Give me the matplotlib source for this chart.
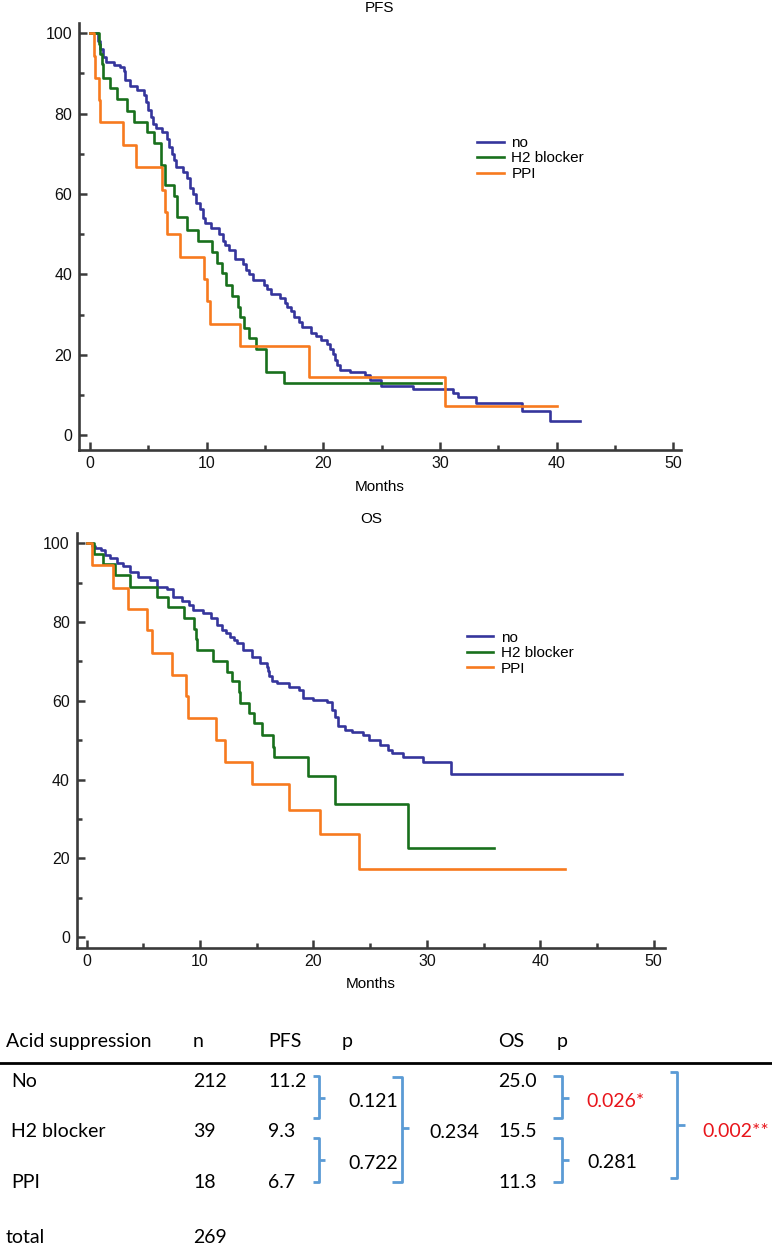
"""
Kaplan-Meier curves (PFS / OS) by acid suppression, with summary table.
"""

import matplotlib
matplotlib.use('Agg')
import matplotlib.pyplot as plt
from matplotlib.ticker import MultipleLocator

plt.rcParams['font.family'] = ['Liberation Sans', 'DejaVu Sans']

# --- Data ---
groups = ['no', 'H2 blocker', 'PPI']
colors = ['#35359c', '#18701c', '#f77a1e']

# PFS curves: event times (months) and survival (%)
pfs_no_t = [0, 0.7, 0.9, 1.1, 1.4, 2.1, 2.6, 2.9, 3.0, 3.4, 4.0, 4.6, 4.8, 5.0, 5.2,
            5.4, 5.7, 6.2, 6.6, 6.8, 7.0, 7.2, 7.4, 8.0, 8.3, 8.6, 8.8, 9.1, 9.4, 9.7,
            9.9, 10.4, 11.1, 11.4, 11.6, 11.9, 12.4, 13.1, 13.4, 13.6, 14.0, 14.9, 15.2,
            15.5, 16.3, 16.7, 16.9, 17.2, 17.5, 17.9, 18.2, 18.9, 19.4, 19.8, 20.3, 20.6,
            20.8, 21.0, 21.2, 21.4, 22.3, 23.6, 24.0, 24.9, 27.7, 31.1, 31.5, 33.1, 37.0,
            39.4, 42.0]
pfs_no_s = [100, 98.0, 96.0, 94.0, 92.9, 92.2, 91.5, 90.7, 88.4, 86.9, 85.8, 84.7, 83.0, 80.9, 79.2,
            77.4, 76.3, 75.3, 73.7, 71.8, 70.0, 68.5, 66.8, 65.6, 63.9, 61.5, 60.0, 57.7, 56.3, 54.0,
            52.7, 51.5, 50.0, 48.2, 47.3, 46.1, 43.8, 42.7, 41.2, 40.1, 38.6, 37.4, 36.3,
            35.2, 34.1, 32.8, 32.0, 30.8, 29.5, 28.2, 27.0, 25.5, 24.6, 23.7, 22.6, 21.5,
            20.2, 18.7, 17.4, 16.2, 15.8, 15.0, 13.8, 12.3, 11.4, 10.4, 9.5, 8.1, 6.0,
            3.6, 3.6]
pfs_h2_t = [0, 0.8, 0.9, 1.0, 1.15, 1.7, 2.3, 3.2, 3.8, 4.85, 5.5, 6.1, 6.45, 7.2, 7.5,
            8.3, 9.3, 10.5, 10.9, 11.3, 11.7, 12.2, 12.7, 12.85, 13.2, 13.65, 14.2, 15.1,
            16.6, 30.1]
pfs_h2_s = [100, 97.4, 94.9, 92.3, 88.8, 86.3, 83.7, 80.7, 78.0, 75.4, 72.6, 67.2, 62.3, 59.4, 54.2,
            51.1, 48.4, 45.7, 42.8, 40.3, 37.4, 34.7, 32.0, 29.5, 26.6, 24.1, 21.4, 15.8,
            13.1, 13.1]
pfs_ppi_t = [0, 0.35, 0.45, 0.8, 0.9, 2.85, 3.95, 6.15, 6.45, 6.6, 7.7, 9.75, 10.05, 10.3,
             12.9, 18.8, 30.4, 40.0]
pfs_ppi_s = [100, 94.4, 88.9, 83.3, 77.8, 72.2, 66.7, 61.1, 55.6, 50.0, 44.4, 38.9, 33.3, 27.8,
             22.2, 14.6, 7.2, 7.2]

# OS curves
os_no_t = [0, 0.5, 0.75, 1.3, 1.6, 2.1, 2.65, 3.2, 3.8, 4.55, 5.6, 6.2, 7.05, 7.65, 8.4,
           9.0, 9.4, 10.3, 11.0, 11.5, 11.9, 12.3, 12.65, 13.0, 13.25, 13.8, 14.55, 15.3,
           15.9, 16.0, 16.1, 16.3, 16.8, 17.8, 18.7, 19.1, 20.0, 21.2, 21.6, 21.9, 22.2,
           22.8, 23.4, 24.4, 24.9, 25.9, 26.6, 26.9, 27.9, 29.7, 32.1, 47.2]
os_no_s = [100, 99.2, 98.7, 98.3, 97.0, 96.2, 94.9, 94.1, 92.8, 91.5, 90.7, 89.0, 88.3, 86.4, 85.2,
           84.3, 83.1, 82.2, 81.0, 79.3, 78.0, 77.2, 76.3, 75.4, 74.6, 72.9, 71.2, 69.5,
           68.7, 67.5, 66.2, 64.9, 64.5, 63.6, 62.8, 60.7, 60.2, 59.8, 57.7, 56.0, 53.5,
           52.6, 52.2, 51.3, 50.1, 48.8, 47.5, 46.7, 45.8, 44.4, 41.4, 41.4]
os_h2_t = [0, 0.65, 1.45, 2.5, 3.8, 6.2, 7.2, 8.6, 9.45, 9.6, 9.7, 11.15, 12.35, 12.8, 13.4,
           13.5, 14.3, 14.75, 15.5, 16.45, 16.5, 19.5, 21.9, 28.3, 35.95]
os_h2_s = [100, 97.3, 94.8, 92.0, 89.0, 86.4, 83.8, 81.0, 78.2, 75.6, 72.9, 70.2, 67.4, 64.9, 62.2,
           59.5, 56.9, 54.3, 51.3, 48.4, 45.7, 40.8, 33.8, 22.6, 22.6]
os_ppi_t = [0, 0.45, 2.35, 3.65, 5.35, 5.75, 7.5, 8.75, 8.9, 11.4, 12.2, 14.55, 17.85, 20.6,
            24.0, 42.2]
os_ppi_s = [100, 94.5, 88.6, 83.2, 78.0, 72.2, 66.6, 61.1, 55.6, 50.1, 44.4, 38.9, 32.3, 26.1,
            17.3, 17.3]

# Summary table
table_header = ['Acid suppression', 'n', 'PFS', 'p', 'OS', 'p']
table_groups = ['No', 'H2 blocker', 'PPI']
n_patients = ['212', '39', '18']
n_total = '269'
pfs_median = ['11.2', '9.3', '6.7']
os_median = ['25.0', '15.5', '11.3']
pfs_p_pairs = ['0.121', '0.722']
pfs_p_all = '0.234'
os_p_pairs = ['0.026*', '0.281']
os_p_all = '0.002**'

W, H = 772, 1245
AXIS_COLOR = '#3a3a3a'
BRACKET_COLOR = '#5b9bd5'


def px_rect(left, top, right, bottom):
    return [left / W, 1 - bottom / H, (right - left) / W, (bottom - top) / H]


def km_panel(rect, xlim, ylim, curves, title, legend_anchor):
    ax = fig.add_axes(rect)
    for (t, s), name, c in zip(curves, groups, colors):
        ax.step(t, s, where='post', color=c, linewidth=1.9, label=name)
    ax.set_xlim(*xlim)
    ax.set_ylim(*ylim)
    for side in ['top', 'right']:
        ax.spines[side].set_visible(False)
    for side in ['left', 'bottom']:
        ax.spines[side].set_color(AXIS_COLOR)
        ax.spines[side].set_linewidth(1.9)
    ax.xaxis.set_major_locator(MultipleLocator(10))
    ax.xaxis.set_minor_locator(MultipleLocator(5))
    ax.yaxis.set_major_locator(MultipleLocator(20))
    ax.yaxis.set_minor_locator(MultipleLocator(10))
    ax.tick_params(which='both', direction='in', color=AXIS_COLOR, width=1.8,
                   labelsize=11.5, labelcolor='#111111')
    ax.tick_params(which='major', length=6)
    ax.tick_params(which='minor', length=3.5)
    ax.tick_params(axis='y', pad=5)
    ax.tick_params(axis='x', pad=4.5)
    ax.set_xlabel('Months', fontsize=11, labelpad=6)
    ax.set_title(title, fontsize=11, pad=7.5)
    ax.legend(loc='upper left', bbox_to_anchor=legend_anchor, frameon=False, fontsize=11,
              handlelength=1.75, handletextpad=0.5, labelspacing=0.1,
              borderpad=0, borderaxespad=0)
    return ax


def bracket(ax, x0, x1, xn, ytop, ybot, ymid):
    ax.plot([x0, x1, x1, x0], [ytop, ytop, ybot, ybot], color=BRACKET_COLOR,
            linewidth=2, solid_joinstyle='round', solid_capstyle='butt')
    ax.plot([x1, xn], [ymid, ymid], color=BRACKET_COLOR, linewidth=2,
            solid_capstyle='butt')


fig = plt.figure(figsize=(W / 100, H / 100), dpi=100)

# --- PFS ---
km_panel(px_rect(79, 22.7, 681, 450), (-0.94, 50.65), (-3.65, 102.6),
         [(pfs_no_t, pfs_no_s), (pfs_h2_t, pfs_h2_s), (pfs_ppi_t, pfs_ppi_s)],
         'PFS', (0.661, 0.735))

# --- OS ---
km_panel(px_rect(76.7, 533.3, 665, 947.7), (-0.88, 51.0), (-2.64, 102.5),
         [(os_no_t, os_no_s), (os_h2_t, os_h2_s), (os_ppi_t, os_ppi_s)],
         'OS', (0.663, 0.765))

# --- Table (overlay axes in pixel coordinates) ---
tab = fig.add_axes([0, 0, 1, 1])
tab.set_xlim(0, W)
tab.set_ylim(H, 0)
tab.axis('off')

tfont = dict(fontsize=14, family=['Lato', 'DejaVu Sans'], va='baseline')
col_x = [6, 193, 268, 342, 498.5, 556.7]
for label, x in zip(table_header, col_x):
    tab.text(x, 1046.7, label, **tfont)
tab.plot([0, W], [1063.3, 1063.3], color='black', linewidth=2)

row_y = [1087.3, 1137.3, 1188.3]
for i, y in enumerate(row_y):
    tab.text(10.8, y, table_groups[i], **tfont)
    tab.text(193, y, n_patients[i], **tfont)
    tab.text(268, y, pfs_median[i], **tfont)
    tab.text(498.5, y, os_median[i], **tfont)
tab.text(6, 1243, 'total', **tfont)
tab.text(193, 1243, n_total, **tfont)

# PFS comparisons
bracket(tab, 313, 319, 325, 1076, 1118, 1097.7)
bracket(tab, 313, 319, 325, 1138, 1182, 1160)
bracket(tab, 391.6, 401.5, 409, 1077, 1182, 1128.3)
tab.text(348.8, 1107.3, pfs_p_pairs[0], **tfont)
tab.text(348.8, 1169, pfs_p_pairs[1], **tfont)
tab.text(429.6, 1138.3, pfs_p_all, **tfont)

# OS comparisons
bracket(tab, 552.7, 561.6, 569, 1076, 1118, 1097.7)
bracket(tab, 552.7, 561.6, 569, 1138, 1182, 1160)
bracket(tab, 670, 677, 685, 1072, 1178, 1125)
tab.text(586, 1106.7, os_p_pairs[0], color='#e8151b', **tfont)
tab.text(587, 1168.3, os_p_pairs[1], **tfont)
tab.text(702, 1136.7, os_p_all, color='#e8151b', **tfont)

fig.savefig('out.png', dpi=100)
